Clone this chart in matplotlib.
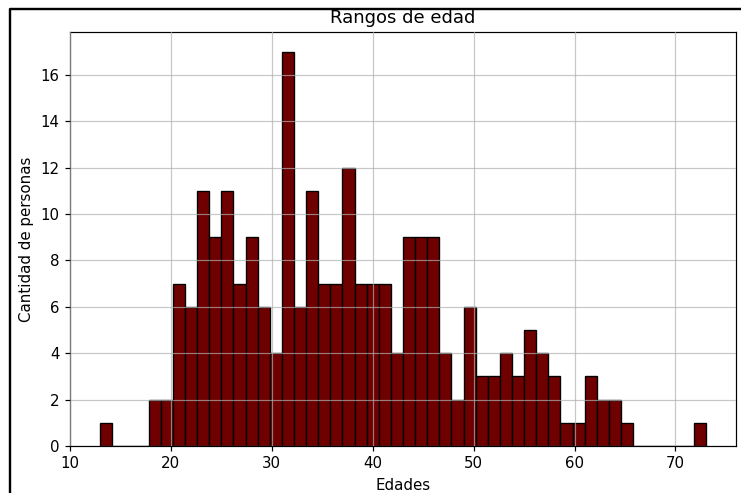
import matplotlib
matplotlib.use("Agg")
import matplotlib.pyplot as plt
from matplotlib.lines import Line2D
import numpy as np

# Histogram data: 50 bins of width 1.2 from 13 to 73
bin_start = 13.0
bin_end = 73.0
n_bins = 50
counts = [1, 0, 0, 0, 2, 2, 7, 6, 11, 9,
          11, 7, 9, 6, 4, 17, 6, 11, 7, 7,
          12, 7, 7, 7, 4, 9, 9, 9, 4, 2,
          6, 3, 3, 4, 3, 5, 4, 3, 1, 1,
          3, 2, 2, 1, 0, 0, 0, 0, 0, 1]
title = "Rangos de edad"
xlabel = "Edades"
ylabel = "Cantidad de personas"

edges = np.linspace(bin_start, bin_end, n_bins + 1)
centers = (edges[:-1] + edges[1:]) / 2

dpi = 108
fig = plt.figure(figsize=(741 / dpi, 493 / dpi), dpi=dpi)
ax = fig.add_axes([70 / 741, 1 - 446 / 493, 666 / 741, (446 - 32) / 493])
ax.hist(centers, bins=edges, weights=counts, color="#6e0000",
        edgecolor="black", linewidth=0.9)
ax.set_axisbelow(False)
ax.grid(True, color="#b0b0b0", linewidth=0.8, alpha=0.7)
ax.set_title(title, fontsize=12)
ax.set_xlabel(xlabel)
ax.set_ylabel(ylabel)
ax.set_yticks(range(0, 17, 2))

# outer screenshot frame (left and top edges)
fig.add_artist(Line2D([10 / 741, 10 / 741, 1.0], [0.0, 1 - 9 / 493, 1 - 9 / 493],
                      transform=fig.transFigure, color="black", linewidth=1.6))

fig.savefig("out.png", dpi=dpi)
